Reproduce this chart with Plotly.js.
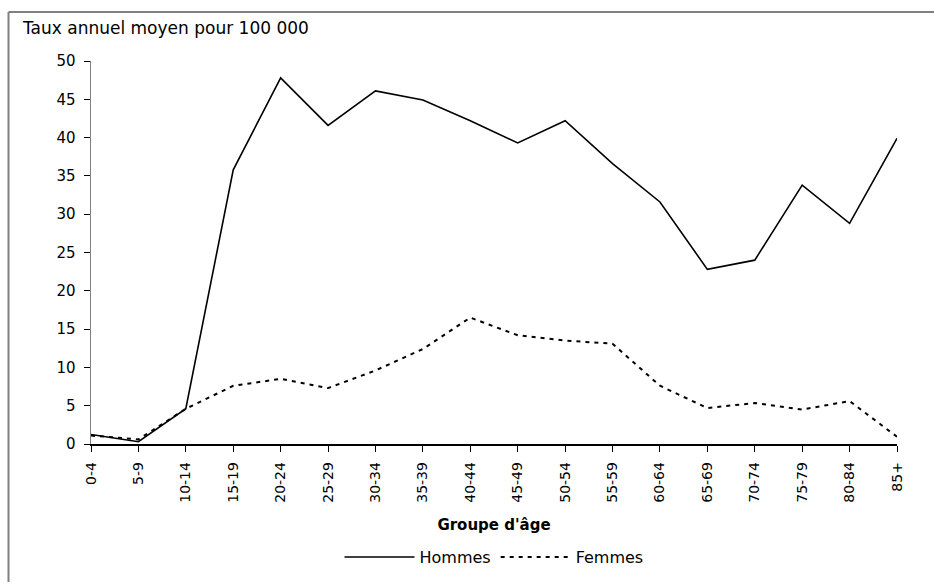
<!DOCTYPE html>
<html>
<head>
<meta charset="utf-8">
<script src="https://cdn.plot.ly/plotly-3.0.1.min.js"></script>
<style>html,body{margin:0;padding:0;background:#fff;overflow:hidden;}#chart{width:934px;height:586px;}</style>
</head>
<body>
<div id="chart"></div>
<script>
const ageGroups = ["0-4","5-9","10-14","15-19","20-24","25-29","30-34","35-39","40-44","45-49","50-54","55-59","60-64","65-69","70-74","75-79","80-84","85+"];
const hommes = [1.25, 0.3, 4.6, 35.8, 47.8, 41.6, 46.1, 44.9, 42.2, 39.3, 42.2, 36.6, 31.6, 22.8, 24.0, 33.8, 28.8, 39.9];
const femmes = [1.1, 0.6, 4.6, 7.6, 8.5, 7.3, 9.6, 12.4, 16.5, 14.2, 13.5, 13.1, 7.6, 4.7, 5.35, 4.5, 5.6, 0.95];
const yTicks = [0,5,10,15,20,25,30,35,40,45,50];

const FONT = "DejaVu Sans, Arial, sans-serif";

const traces = [
  {x: ageGroups, y: hommes, name: "Hommes", type: "scatter", mode: "lines",
   line: {color: "#000", width: 1.6}, cliponaxis: false},
  {x: ageGroups, y: femmes, name: "Femmes", type: "scatter", mode: "lines",
   line: {color: "#000", width: 2, dash: "4px,5px"}, cliponaxis: false}
];

const px2x = p => (p - 91) / 806;
const px2y = p => (447 - p) / 386;

const layout = {
  width: 934, height: 586,
  margin: {l: 91, r: 37, t: 61, b: 139},
  paper_bgcolor: "#fff", plot_bgcolor: "#fff",
  font: {family: FONT, size: 14, color: "#000"},
  showlegend: true,
  title: {text: "Taux annuel moyen pour 100 000", font: {family: FONT, size: 17, color: "#000"},
          xref: "container", yref: "container", x: 23/934, xanchor: "left", y: 1 - 28/586, yanchor: "middle"},
  xaxis: {
    type: "category", range: [0, 17], fixedrange: true,
    showline: true, linecolor: "#000", linewidth: 1.5,
    ticks: "outside", ticklen: 6, tickcolor: "#000", tickwidth: 1, ticklabelstandoff: 5,
    tickangle: -90, tickfont: {family: FONT, size: 14, color: "#000"},
    showgrid: false, zeroline: false, automargin: false,
    title: {text: "<b>Groupe d'âge</b>", font: {family: FONT, size: 15, color: "#000"}, standoff: 17}
  },
  yaxis: {
    range: [0, 50], tickvals: yTicks, fixedrange: true,
    showline: true, linecolor: "#808080", linewidth: 1.5,
    ticks: "outside", ticklen: 6, tickcolor: "#000", tickwidth: 1, ticklabelstandoff: 5,
    tickfont: {family: FONT, size: 15, color: "#000"},
    showgrid: false, zeroline: false, automargin: false
  },
  legend: {orientation: "h", x: 0.5, xanchor: "center", y: px2y(561), yanchor: "middle",
           itemwidth: 70, tracegroupgap: 0,
           font: {family: FONT, size: 16, color: "#000"}, bgcolor: "rgba(0,0,0,0)"},
  shapes: [
    {type: "line", xref: "paper", yref: "paper", x0: px2x(8.5), x1: px2x(934),
     y0: px2y(11.5), y1: px2y(11.5), line: {color: "#808080", width: 2}},
    {type: "line", xref: "paper", yref: "paper", x0: px2x(8.5), x1: px2x(8.5),
     y0: px2y(11.5), y1: px2y(586), line: {color: "#808080", width: 2}}
  ]
};

Plotly.newPlot("chart", traces, layout, {displayModeBar: false, staticPlot: true});
</script>
</body>
</html>
